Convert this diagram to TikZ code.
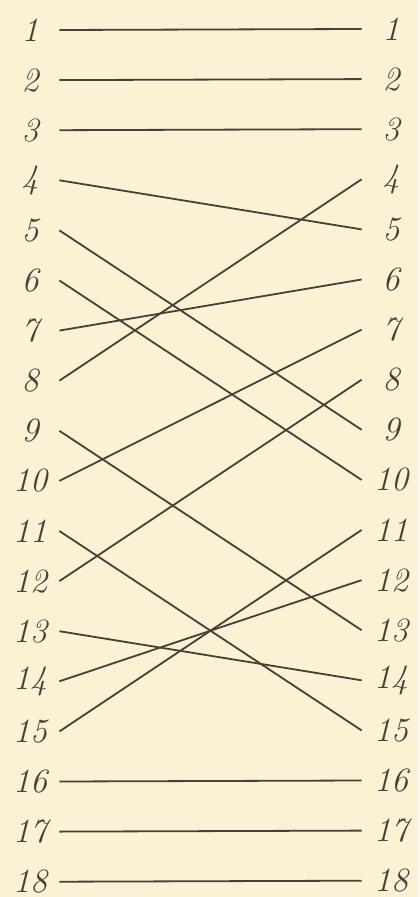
\documentclass[tikz,border=0pt]{standalone}
\usepackage{tikz}
\definecolor{paper}{RGB}{252,240,213}
\definecolor{ink}{RGB}{72,64,56}

\begin{document}
\begin{tikzpicture}[x=0.5pt, y=-0.5pt, every node/.style={font=\fontsize{17}{20}\selectfont\itshape, text=ink},
	num/.style={inner sep=0pt, minimum width=29pt},
	wire/.style={ink, line width=0.9pt}]
	\fill[paper] (0,0) rectangle (419,897);
	\useasboundingbox (0,0) rectangle (419,897);
	\foreach \i in {1,...,18} {
		\node[num] (l\i) at (30, {30+(\i-1)*50.1}) {\i};
		\node[num] (r\i) at (391, {29+(\i-1)*50.1}) {\i};
	}
	\foreach \a/\b in {1/1, 2/2, 3/3, 4/5, 5/9, 6/10, 7/6, 8/4, 9/13, 10/7, 11/15, 12/8, 13/14, 14/12, 15/11, 16/16, 17/17, 18/18}
		\draw[wire] (l\a.east) -- (r\b.west);
\end{tikzpicture}
\end{document}
